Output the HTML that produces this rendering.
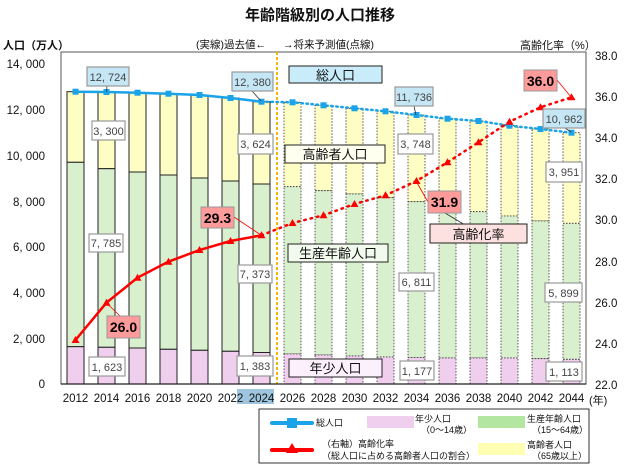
<!DOCTYPE html>
<html><head><meta charset="utf-8"><style>
body{margin:0;background:#fff;}
svg{display:block;font-family:"Liberation Sans","Noto Sans CJK JP",sans-serif;}
.y{fill:#fdfdc4}.g{fill:#d9f0cf}.p{fill:#f0cfee}
.past rect{stroke:#222;stroke-width:1}
.fut rect{stroke:#333;stroke-width:0.8;stroke-dasharray:1.5 1.5}
.lb{fill:#fff;stroke:#999;stroke-width:1.2}
.lt{font-size:11px;fill:#444;text-anchor:middle}
.tk{font-size:11.5px;fill:#111}
</style></head><body>
<svg width="640" height="466" viewBox="0 0 640 466">
<text x="320" y="20" font-size="15" font-weight="bold" text-anchor="middle" fill="#111">年齢階級別の人口推移</text>
<text x="3" y="49" font-size="11" font-weight="bold" fill="#111">人口（万人）</text>
<text x="196" y="48" font-size="10.5" fill="#111">(実線)過去値←</text>
<text x="283" y="48" font-size="10.5" fill="#111">→将来予測値(点線)</text>
<text x="520" y="49" font-size="11" fill="#111">高齢化率（%）</text>
<rect x="61" y="52" width="525" height="332" fill="#fff" stroke="#555" stroke-width="1"/>
<g class="past">
<rect class="y" x="67" y="91.7" width="17" height="70.6"/><rect class="g" x="67" y="162.3" width="17" height="184.4"/><rect class="p" x="67" y="346.7" width="17" height="37.3"/>
<rect class="y" x="98" y="92" width="17" height="76.7"/><rect class="g" x="98" y="168.7" width="17" height="178.6"/><rect class="p" x="98" y="347.3" width="17" height="36.7"/>
<rect class="y" x="129" y="92.7" width="17" height="79.3"/><rect class="g" x="129" y="172" width="17" height="176"/><rect class="p" x="129" y="348" width="17" height="36"/>
<rect class="y" x="160" y="93.7" width="17" height="81.3"/><rect class="g" x="160" y="175" width="17" height="174.3"/><rect class="p" x="160" y="349.3" width="17" height="34.7"/>
<rect class="y" x="191" y="95" width="17" height="83"/><rect class="g" x="191" y="178" width="17" height="172.3"/><rect class="p" x="191" y="350.3" width="17" height="33.7"/>
<rect class="y" x="222" y="98" width="17" height="83"/><rect class="g" x="222" y="181" width="17" height="170.3"/><rect class="p" x="222" y="351.3" width="17" height="32.7"/>
<rect class="y" x="253" y="101.7" width="17" height="82.3"/><rect class="g" x="253" y="184" width="17" height="168.5"/><rect class="p" x="253" y="352.5" width="17" height="31.5"/>
</g>
<g class="fut">
<rect class="y" x="284" y="102.3" width="17" height="84.4"/><rect class="g" x="284" y="186.7" width="17" height="167.3"/><rect class="p" x="284" y="354" width="17" height="30"/>
<rect class="y" x="315" y="105.3" width="17" height="85.4"/><rect class="g" x="315" y="190.7" width="17" height="164.3"/><rect class="p" x="315" y="355" width="17" height="29"/>
<rect class="y" x="346" y="108.3" width="17" height="85.7"/><rect class="g" x="346" y="194" width="17" height="162"/><rect class="p" x="346" y="356" width="17" height="28"/>
<rect class="y" x="377" y="111.3" width="17" height="86.4"/><rect class="g" x="377" y="197.7" width="17" height="159.3"/><rect class="p" x="377" y="357" width="17" height="27"/>
<rect class="y" x="408" y="115" width="17" height="86.7"/><rect class="g" x="408" y="201.7" width="17" height="155.8"/><rect class="p" x="408" y="357.5" width="17" height="26.5"/>
<rect class="y" x="439" y="118.7" width="17" height="88"/><rect class="g" x="439" y="206.7" width="17" height="151.3"/><rect class="p" x="439" y="358" width="17" height="26"/>
<rect class="y" x="470" y="121" width="17" height="90.7"/><rect class="g" x="470" y="211.7" width="17" height="146.3"/><rect class="p" x="470" y="358" width="17" height="26"/>
<rect class="y" x="501" y="125.7" width="17" height="90.3"/><rect class="g" x="501" y="216" width="17" height="142"/><rect class="p" x="501" y="358" width="17" height="26"/>
<rect class="y" x="532" y="129" width="17" height="92"/><rect class="g" x="532" y="221" width="17" height="137.7"/><rect class="p" x="532" y="358.7" width="17" height="25.3"/>
<rect class="y" x="563" y="132.7" width="17" height="90.6"/><rect class="g" x="563" y="223.3" width="17" height="136"/><rect class="p" x="563" y="359.3" width="17" height="24.7"/>
</g>
<line x1="277" y1="52" x2="277" y2="384" stroke="#f5b800" stroke-width="2" stroke-dasharray="3 2"/>
<line x1="61" y1="384" x2="586" y2="384" stroke="#222" stroke-width="1.2"/>
<!-- blue total -->
<polyline points="75.5,91.7 106.5,92 137.5,92.7 168.5,93.7 199.5,95 230.5,98 261.5,101.7" fill="none" stroke="#1aa3e8" stroke-width="2.5"/>
<polyline points="261.5,101.7 292.5,102.3 323.5,105.3 354.5,108.3 385.5,111.3 416.5,115 447.5,118.7 478.5,121 509.5,125.7 540.5,129 571.5,132.7" fill="none" stroke="#1aa3e8" stroke-width="2.5" stroke-dasharray="1.5 3.5" stroke-linecap="round"/>
<g fill="#1aa3e8">
<rect x="72.5" y="88.7" width="6" height="6"/><rect x="103.5" y="89" width="6" height="6"/><rect x="134.5" y="89.7" width="6" height="6"/><rect x="165.5" y="90.7" width="6" height="6"/><rect x="196.5" y="92" width="6" height="6"/><rect x="227.5" y="95" width="6" height="6"/><rect x="258.5" y="98.7" width="6" height="6"/><rect x="289.5" y="99.3" width="6" height="6"/><rect x="320.5" y="102.3" width="6" height="6"/><rect x="351.5" y="105.3" width="6" height="6"/><rect x="382.5" y="108.3" width="6" height="6"/><rect x="413.5" y="112" width="6" height="6"/><rect x="444.5" y="115.7" width="6" height="6"/><rect x="475.5" y="118" width="6" height="6"/><rect x="506.5" y="122.7" width="6" height="6"/><rect x="537.5" y="126" width="6" height="6"/><rect x="568.5" y="129.7" width="6" height="6"/>
</g>
<!-- red ratio -->
<polyline points="75.5,340 106.5,302.7 137.5,277.7 168.5,261.7 199.5,250 230.5,241 261.5,235.3" fill="none" stroke="#f00" stroke-width="2.5"/>
<polyline points="261.5,235.3 292.5,223 323.5,215.3 354.5,204 385.5,195.3 416.5,181 447.5,162.3 478.5,142.3 509.5,121.7 540.5,107.3 571.5,97.3" fill="none" stroke="#f00" stroke-width="2.5" stroke-dasharray="1.5 5" stroke-linecap="round"/>
<g fill="#f00">
<path d="M75.5,336 l4,7 h-8z"/><path d="M106.5,298.7 l4,7 h-8z"/><path d="M137.5,273.7 l4,7 h-8z"/><path d="M168.5,257.7 l4,7 h-8z"/><path d="M199.5,246 l4,7 h-8z"/><path d="M230.5,237 l4,7 h-8z"/><path d="M261.5,231.3 l4,7 h-8z"/><path d="M292.5,219 l4,7 h-8z"/><path d="M323.5,211.3 l4,7 h-8z"/><path d="M354.5,200 l4,7 h-8z"/><path d="M385.5,191.3 l4,7 h-8z"/><path d="M416.5,177 l4,7 h-8z"/><path d="M447.5,158.3 l4,7 h-8z"/><path d="M478.5,138.3 l4,7 h-8z"/><path d="M509.5,117.7 l4,7 h-8z"/><path d="M540.5,103.3 l4,7 h-8z"/><path d="M571.5,93.3 l4,7 h-8z"/>
</g>
<!-- leader lines -->
<g stroke="#333" stroke-width="0.8" fill="none">
<line x1="107" y1="86" x2="106.5" y2="92"/><line x1="252" y1="91" x2="261" y2="101"/>
<line x1="414" y1="106" x2="416" y2="115"/><line x1="565" y1="128" x2="571" y2="132"/>
<line x1="445" y1="213" x2="465" y2="225"/>
</g>
<g stroke="#f00" stroke-width="0.8" fill="none">
<line x1="557" y1="80" x2="571" y2="97"/><line x1="428" y1="202" x2="416" y2="181"/>
<line x1="234" y1="217" x2="261" y2="235"/><line x1="120" y1="316" x2="106.5" y2="303"/>
</g>
<!-- value label boxes -->
<g>
<rect x="87" y="67" width="42" height="19" fill="#c5e6f5" stroke="#999" stroke-width="1.2"/><text class="lt" x="108" y="81">12, 724</text>
<rect x="232" y="72" width="41" height="19" fill="#c5e6f5" stroke="#999" stroke-width="1.2"/><text class="lt" x="252.5" y="86">12, 380</text>
<rect x="395" y="87" width="38" height="19" fill="#c5e6f5" stroke="#999" stroke-width="1.2"/><text class="lt" x="414" y="101">11, 736</text>
<rect x="543" y="109" width="42" height="19" fill="#c5e6f5" stroke="#999" stroke-width="1.2"/><text class="lt" x="564" y="123">10, 962</text>
<rect class="lb" x="92" y="121" width="33" height="19" fill="#fffff0"/><text class="lt" x="108.5" y="135">3, 300</text>
<rect class="lb" x="238" y="134" width="35" height="20"/><text class="lt" x="255.5" y="148">3, 624</text>
<rect class="lb" x="398" y="134" width="35" height="20"/><text class="lt" x="415.5" y="148">3, 748</text>
<rect class="lb" x="546" y="162" width="36" height="20"/><text class="lt" x="564" y="176">3, 951</text>
<rect class="lb" x="89" y="234" width="34" height="18"/><text class="lt" x="106" y="247">7, 785</text>
<rect class="lb" x="238" y="265" width="34" height="18"/><text class="lt" x="255" y="278">7, 373</text>
<rect class="lb" x="399" y="273" width="35" height="18"/><text class="lt" x="416.5" y="286">6, 811</text>
<rect class="lb" x="545" y="283" width="37" height="19"/><text class="lt" x="563.5" y="297">5, 899</text>
<rect class="lb" x="89" y="357" width="36" height="19"/><text class="lt" x="107" y="371">1, 623</text>
<rect class="lb" x="237" y="356" width="36" height="20"/><text class="lt" x="255" y="370">1, 383</text>
<rect class="lb" x="400" y="361" width="34" height="19"/><text class="lt" x="417" y="375">1, 177</text>
<rect class="lb" x="546" y="362" width="36" height="19"/><text class="lt" x="564" y="376">1, 113</text>
</g>
<g font-weight="bold" font-size="14" text-anchor="middle" fill="#000">
<rect x="524" y="70" width="33" height="21" fill="#ff9b9b" stroke="#999"/><text x="540.5" y="86">36.0</text>
<rect x="428" y="191" width="33" height="22" fill="#ff9b9b" stroke="#999"/><text x="444.5" y="207">31.9</text>
<rect x="201" y="207" width="33" height="21" fill="#ff9b9b" stroke="#999"/><text x="217.5" y="223">29.3</text>
<rect x="107" y="316" width="33" height="22" fill="#ff9b9b" stroke="#999"/><text x="123.5" y="332">26.0</text>
</g>
<g font-size="13" text-anchor="middle" fill="#111">
<rect x="289" y="66" width="93" height="17" fill="#c9ecfb" stroke="#222"/><text x="335.5" y="80">総人口</text>
<rect x="285" y="145" width="100" height="18" fill="#fffff0" stroke="#222"/><text x="335" y="159">高齢者人口</text>
<rect x="430" y="224" width="97" height="19" fill="#fde0e0" stroke="#222"/><text x="478.5" y="239">高齢化率</text>
<rect x="288" y="244" width="100" height="18" fill="#f2faee" stroke="#222"/><text x="338" y="258">生産年齢人口</text>
<rect x="289" y="359" width="93" height="18" fill="#fbf0fb" stroke="#222"/><text x="335.5" y="373">年少人口</text>
</g>
<!-- left ticks -->
<g class="tk" text-anchor="end">
<text x="45" y="68">14, 000</text><text x="45" y="114">12, 000</text><text x="45" y="160">10, 000</text><text x="45" y="206">8, 000</text><text x="45" y="251">6, 000</text><text x="45" y="297">4, 000</text><text x="45" y="343">2, 000</text><text x="45" y="388">0</text>
</g>
<g class="tk">
<text x="595" y="60">38.0</text><text x="595" y="101">36.0</text><text x="595" y="142">34.0</text><text x="595" y="183">32.0</text><text x="595" y="224">30.0</text><text x="595" y="266">28.0</text><text x="595" y="307">26.0</text><text x="595" y="348">24.0</text><text x="595" y="389">22.0</text>
</g>
<rect x="237" y="389" width="37" height="15" fill="#9ec5de"/>
<g class="tk" text-anchor="middle">
<text x="75.5" y="402">2012</text><text x="106.5" y="402">2014</text><text x="137.5" y="402">2016</text><text x="168.5" y="402">2018</text><text x="199.5" y="402">2020</text><text x="230.5" y="402">2022</text><text x="261.5" y="402">2024</text><text x="292.5" y="402">2026</text><text x="323.5" y="402">2028</text><text x="354.5" y="402">2030</text><text x="385.5" y="402">2032</text><text x="416.5" y="402">2034</text><text x="447.5" y="402">2036</text><text x="478.5" y="402">2038</text><text x="509.5" y="402">2040</text><text x="540.5" y="402">2042</text><text x="571.5" y="402">2044</text>
</g>
<text x="589" y="404" font-size="11" fill="#111">(年)</text>
<!-- legend -->
<rect x="259" y="409" width="330" height="54" fill="#fff" stroke="#333" stroke-width="1"/>
<line x1="272" y1="423" x2="312" y2="423" stroke="#1aa3e8" stroke-width="4" stroke-linecap="round"/>
<rect x="287" y="418" width="10" height="10" fill="#1aa3e8"/>
<line x1="272" y1="450" x2="312" y2="450" stroke="#f00" stroke-width="4" stroke-linecap="round"/>
<path d="M292,443 l6,10 h-12z" fill="#f00"/>
<g font-size="9" fill="#111">
<text x="316" y="426">総人口</text>
<text x="322" y="447">（右軸）高齢化率</text>
<text x="322" y="459">（総人口に占める高齢者人口の割合）</text>
<rect x="367" y="416" width="47" height="12" fill="#f0cfee"/>
<text x="415" y="422">年少人口</text><text x="421" y="433">（0～14歳）</text>
<rect x="478" y="416" width="47" height="12" fill="#b3e6a0"/>
<text x="527" y="422">生産年齢人口</text><text x="532" y="433">（15～64歳）</text>
<rect x="478" y="443" width="47" height="12" fill="#ffffb3"/>
<text x="527" y="448">高齢者人口</text><text x="532" y="459">（65歳以上）</text>
</g>
</svg>
</body></html>
